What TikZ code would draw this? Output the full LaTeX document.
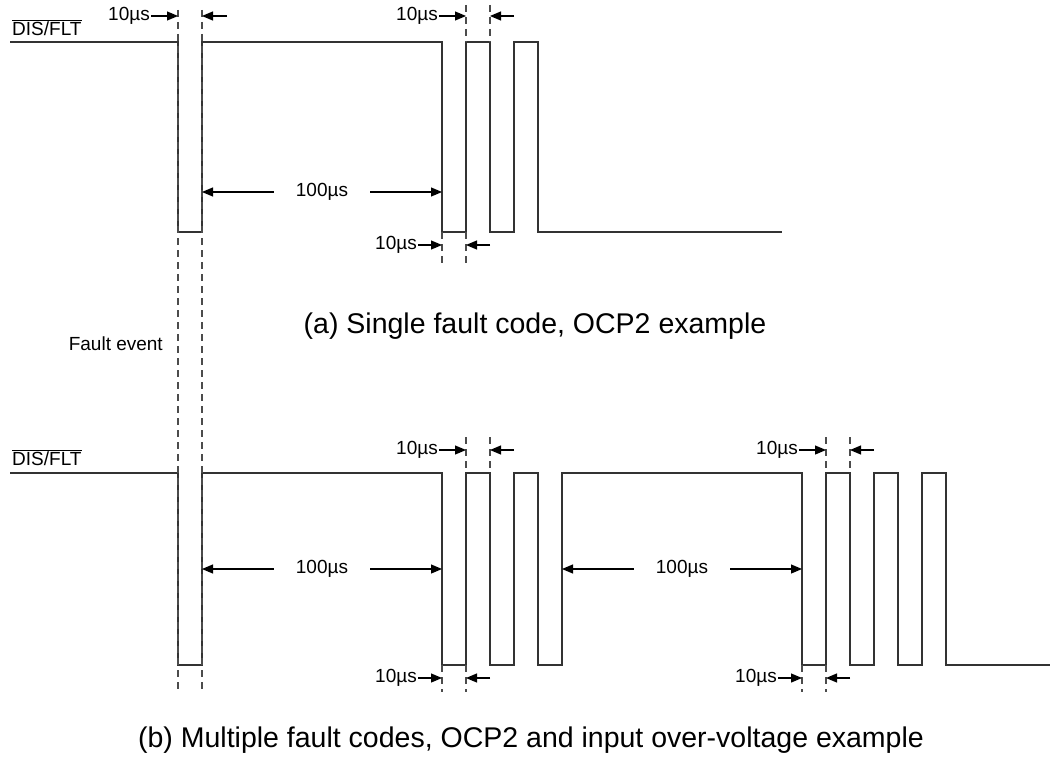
\documentclass[tikz,border=0pt]{standalone}
\usepackage{fontspec}
\setmainfont{Liberation Sans}
\usetikzlibrary{arrows.meta}
\begin{document}
\begin{tikzpicture}[x=1pt,y=-1pt,
  wave/.style={line width=1.3pt,draw=black!80},
  guide/.style={line width=1.4pt,draw=black!70,dash pattern=on 7pt off 5pt},
  dim/.style={line width=1.2pt,-{Triangle[length=11pt,width=9pt]}},
  lbl/.style={font=\fontsize{19}{22}\selectfont,inner sep=1pt},
  captext/.style={font=\fontsize{28.5}{32}\selectfont,inner sep=0pt},
  midlbl/.style={font=\fontsize{19}{22}\selectfont,inner ysep=1pt,inner xsep=22pt}]
\useasboundingbox (0,0) rectangle (1052,773);
% signal labels
\node[lbl,anchor=west] (sa) at (11,28) {$\overline{\hbox{DIS/FLT}}$};
\node[lbl,anchor=west] (sb) at (11,458) {$\overline{\hbox{DIS/FLT}}$};
% waveforms
\draw[wave] (10,42) -| (178,232) -| (202,42) -| (442,232) -| (466,42) -| (490,232) -| (514,42) -| (538,232) -- (782,232);
\draw[wave] (10,473) -| (178,665) -| (202,473) -| (442,665) -| (466,473) -| (490,665) -| (514,473) -| (538,665) -| (562,473) -| (802,665) -| (826,473) -| (850,665) -| (874,473) -| (898,665) -| (922,473) -| (946,665) -- (1050,665);
% fault event guides
\draw[guide] (178,10) -- (178,691);
\draw[guide] (202,10) -- (202,691);
% guides (a)
\draw[guide] (466,5) -- (466,42);
\draw[guide] (490,5) -- (490,42);
\draw[guide] (442,232) -- (442,263);
\draw[guide] (466,232) -- (466,263);
% guides (b)
\draw[guide] (466,437) -- (466,473);
\draw[guide] (490,437) -- (490,473);
\draw[guide] (826,437) -- (826,473);
\draw[guide] (850,437) -- (850,473);
\draw[guide] (442,665) -- (442,692);
\draw[guide] (466,665) -- (466,692);
\draw[guide] (802,665) -- (802,692);
\draw[guide] (826,665) -- (826,692);
% 10us dimension labels
\node[lbl,anchor=east] (t1) at (151,16) {10µs};
\coordinate (t1a) at (178,16); \coordinate (t1b) at (227,16); \coordinate (t1c) at (202,16);
\draw[dim] (t1) -- (t1a); \draw[dim] (t1b) -- (t1c);
\node[lbl,anchor=east] (t2) at (439,16) {10µs};
\coordinate (t2a) at (466,16); \coordinate (t2b) at (514,16); \coordinate (t2c) at (490,16);
\draw[dim] (t2) -- (t2a); \draw[dim] (t2b) -- (t2c);
\node[lbl,anchor=east] (t3) at (418,245) {10µs};
\coordinate (t3a) at (442,245); \coordinate (t3b) at (490,245); \coordinate (t3c) at (466,245);
\draw[dim] (t3) -- (t3a); \draw[dim] (t3b) -- (t3c);
\node[lbl,anchor=east] (t4) at (439,450) {10µs};
\coordinate (t4a) at (466,450); \coordinate (t4b) at (514,450); \coordinate (t4c) at (490,450);
\draw[dim] (t4) -- (t4a); \draw[dim] (t4b) -- (t4c);
\node[lbl,anchor=east] (t5) at (799,450) {10µs};
\coordinate (t5a) at (826,450); \coordinate (t5b) at (874,450); \coordinate (t5c) at (850,450);
\draw[dim] (t5) -- (t5a); \draw[dim] (t5b) -- (t5c);
\node[lbl,anchor=east] (t6) at (418,678) {10µs};
\coordinate (t6a) at (442,678); \coordinate (t6b) at (490,678); \coordinate (t6c) at (466,678);
\draw[dim] (t6) -- (t6a); \draw[dim] (t6b) -- (t6c);
\node[lbl,anchor=east] (t7) at (778,678) {10µs};
\coordinate (t7a) at (802,678); \coordinate (t7b) at (850,678); \coordinate (t7c) at (826,678);
\draw[dim] (t7) -- (t7a); \draw[dim] (t7b) -- (t7c);
% 100us dimensions
\node[midlbl] (h1) at (322,192) {100µs};
\coordinate (h1l) at (202,192); \coordinate (h1r) at (442,192);
\draw[dim] (h1.west) -- (h1l); \draw[dim] (h1.east) -- (h1r);
\node[midlbl] (h2) at (322,569) {100µs};
\coordinate (h2l) at (202,569); \coordinate (h2r) at (442,569);
\draw[dim] (h2.west) -- (h2l); \draw[dim] (h2.east) -- (h2r);
\node[midlbl] (h3) at (682,569) {100µs};
\coordinate (h3l) at (562,569); \coordinate (h3r) at (802,569);
\draw[dim] (h3.west) -- (h3l); \draw[dim] (h3.east) -- (h3r);
% texts
\node[lbl,anchor=east] (fe) at (164,344) {Fault event};
\node[captext] (ca) at (535,326) {(a) Single fault code, OCP2 example};
\node[captext] (cb) at (531,740) {(b) Multiple fault codes, OCP2 and input over-voltage example};
\end{tikzpicture}
\end{document}
